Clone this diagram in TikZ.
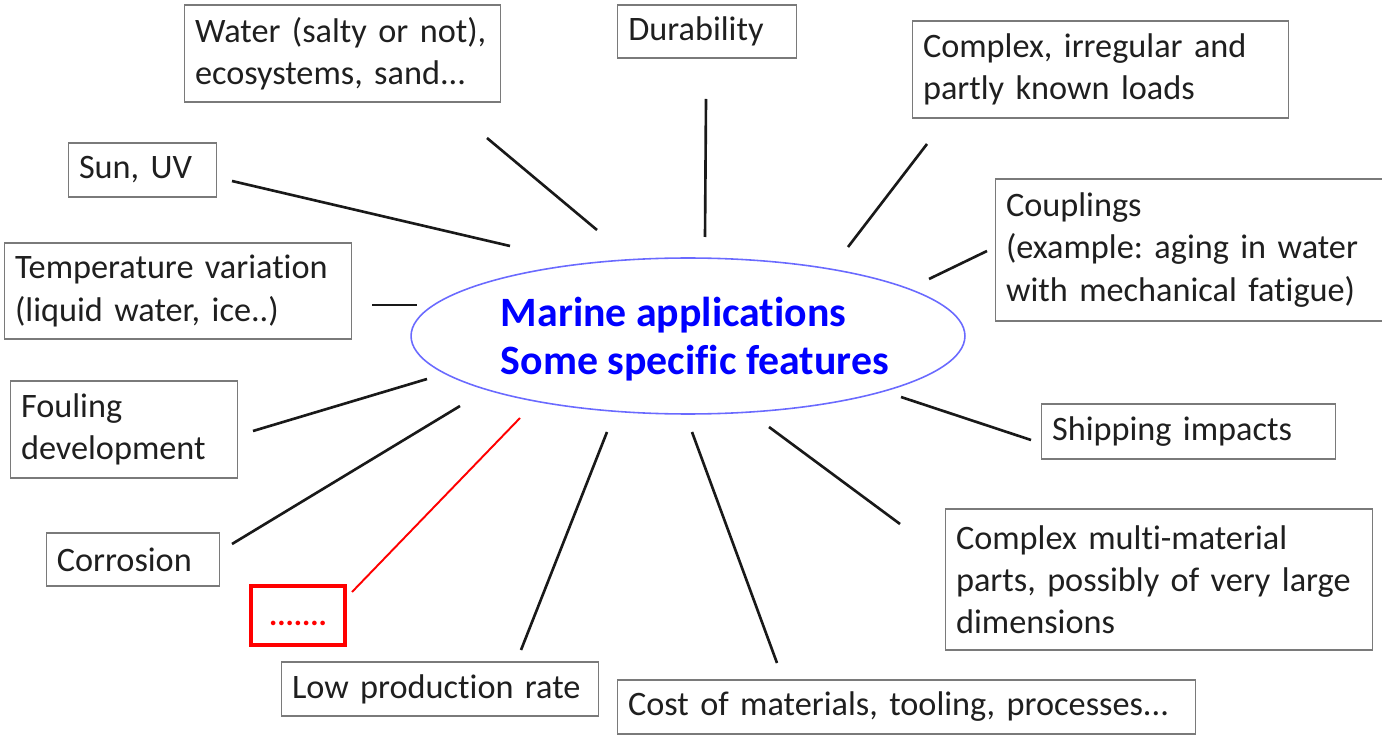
\documentclass[tikz,border=0pt]{standalone}
\usepackage{fontspec}
\setmainfont{Carlito}[Ligatures=NoCommon]
\usepackage{xcolor}
\usepackage{tikz}
\usetikzlibrary{shapes.geometric}
\definecolor{frame}{HTML}{7A7A7A}
\definecolor{rim}{HTML}{6A6AFF}
\definecolor{title}{HTML}{0000FF}
\definecolor{red}{HTML}{FF0000}
\frenchspacing

\begin{document}
\begin{tikzpicture}[x=0.02cm,y=-0.02cm,
  feat/.style={draw=frame,line width=0.8pt,align=left,inner xsep=6pt,inner ysep=0pt,
    font=\fontsize{19.5}{24}\selectfont,text=black!88},
  spoke/.style={line width=1.5pt,black!90}]
  \useasboundingbox (0,0) rectangle (1382,736);
  % centre
  \node[ellipse,draw=rim,line width=0.9pt,minimum width=11.08cm,minimum height=3.12cm,inner sep=0pt] (hub) at (688,336) {};
  \node[align=left,text=title,font=\fontsize{23.8}{27.2}\selectfont\bfseries] (title) at (695,339) {Marine applications\\Some specific features};
  % features
  \node[feat,text width=5.9cm,minimum height=1.94cm] (water) at (342.5,53.5) {Water (salty or not),\\ecosystems, sand...};
  \node[feat,text width=3.15cm,minimum height=1.06cm] (durab) at (707,31.5) {Durability};
  \node[feat,text width=7.1cm,minimum height=1.94cm] (loads) at (1100.5,69.5) {Complex, irregular and\\partly known loads};
  \node[feat,text width=2.54cm,minimum height=1.08cm] (sun) at (142.5,170) {Sun, UV};
  \node[feat,text width=7.32cm,minimum height=2.84cm] (coupl) at (1189,250) {Couplings\\(example: aging in water\\with mechanical fatigue)};
  \node[feat,text width=6.52cm,minimum height=1.92cm] (temp) at (178,291) {Temperature variation\\(liquid water, ice..)};
  \node[feat,text width=4.12cm,minimum height=1.94cm] (foul) at (124,429.5) {Fouling\\development};
  \node[feat,text width=5.46cm,minimum height=1.1cm] (ship) at (1188.5,431.5) {Shipping impacts};
  \node[feat,text width=3.05cm,minimum height=1.06cm] (corr) at (133,559.5) {Corrosion};
  \node[feat,text width=8.12cm,minimum height=2.82cm] (multi) at (1159,579.5) {Complex multi-material\\parts, possibly of very large\\dimensions};
  \node[feat,text width=5.92cm,minimum height=1.08cm] (prod) at (440,689) {Low production rate};
  \node[feat,text width=11.14cm,minimum height=1.08cm] (cost) at (906.5,707) {Cost of materials, tooling, processes...};
  \node[draw=red,line width=2.8pt,minimum width=1.88cm,minimum height=1.18cm,text height=0.4cm,text depth=0pt,
    text=red,font=\fontsize{17.6}{20}\selectfont\bfseries] (more) at (298,615.5) {.......};
  % spoke ends
  \coordinate (w1) at (487,138);  \coordinate (w2) at (597,230);
  \coordinate (d1) at (706,99);   \coordinate (d2) at (705,237);
  \coordinate (l1) at (927,144);  \coordinate (l2) at (848,247);
  \coordinate (s1) at (232,181);  \coordinate (s2) at (510,246);
  \coordinate (c1) at (987,251);  \coordinate (c2) at (929,279);
  \coordinate (t1) at (372,305);  \coordinate (t2) at (417,305);
  \coordinate (f1) at (253,431);  \coordinate (f2) at (427,379);
  \coordinate (r1) at (232,544);  \coordinate (r2) at (460,406);
  \coordinate (h1) at (1031,440); \coordinate (h2) at (901,397);
  \coordinate (m1) at (900,524);  \coordinate (m2) at (769,427);
  \coordinate (k1) at (777,663);  \coordinate (k2) at (692,432);
  \coordinate (p1) at (521,650);  \coordinate (p2) at (607,432);
  \coordinate (x1) at (352,592);  \coordinate (x2) at (520,418);
  \foreach \s in {w,d,l,s,c,t,f,r,h,m,k,p}{\draw[spoke] (\s1) -- (\s2);}
  \draw[red,line width=1.1pt] (x1) -- (x2);
\end{tikzpicture}
\end{document}
